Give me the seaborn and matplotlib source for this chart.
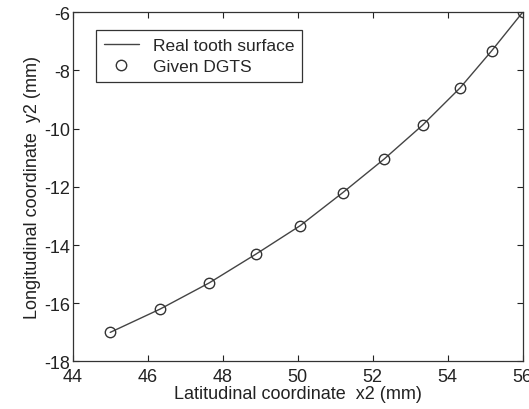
import numpy as np
import pandas as pd
import matplotlib
matplotlib.use("Agg")
import matplotlib.pyplot as plt
import seaborn as sns

# values
x2 = [45.0, 46.33, 47.64, 48.9, 50.07, 51.2, 52.3, 53.33, 54.33, 55.17, 56.0]
y2 = [-17.0, -16.2, -15.3, -14.3, -13.33, -12.2, -11.05, -9.88, -8.6, -7.33, -6.0]
x_ticks = [44, 46, 48, 50, 52, 54, 56]
y_ticks = [-18, -16, -14, -12, -10, -8, -6]

df = pd.DataFrame({"x2": x2, "y2": y2})

sns.set_style("ticks")
plt.rcParams['font.family'] = ['Liberation Sans', 'DejaVu Sans']
plt.rcParams['axes.unicode_minus'] = False

fig = plt.figure(figsize=(5.29, 4.10), dpi=100)
ax = fig.add_axes([0.1374, 0.1159, 0.8506, 0.8517])

# real tooth surface curve
sns.lineplot(data=df, x="x2", y="y2", ax=ax, color="#444444", linewidth=1.0,
             label="Real tooth surface")
# given discrete points
sns.lineplot(data=df, x="x2", y="y2", ax=ax, linestyle="", marker="o",
             markersize=7.5, markerfacecolor="none", markeredgecolor="#333333",
             markeredgewidth=1.0, color="#333333", label="Given DGTS")

ax.set_xlim(44, 56)
ax.set_ylim(-18, -6)
ax.set_xticks(x_ticks)
ax.set_yticks(y_ticks)
ax.tick_params(direction="in", top=True, right=True, length=4, width=0.8,
               labelsize=13, colors="#222222")
ax.tick_params(axis="x", pad=5)
ax.tick_params(axis="y", pad=2)
for s in ax.spines.values():
    s.set_color("#333333")
    s.set_linewidth(0.9)

ax.set_xlabel("Latitudinal coordinate  x2 (mm)", fontsize=13, color="#222222", labelpad=0)
ax.set_ylabel("Longitudinal coordinate  y2 (mm)", fontsize=13, color="#222222", labelpad=2)

leg = ax.legend(loc="upper left", bbox_to_anchor=(0.052, 0.949), borderaxespad=0,
                fancybox=False, framealpha=1, edgecolor="#333333", fontsize=12.5,
                handlelength=2.0, handletextpad=0.8, borderpad=0.45, labelspacing=0.35)
leg.get_frame().set_linewidth(0.9)

fig.savefig("out.png", dpi=100)
